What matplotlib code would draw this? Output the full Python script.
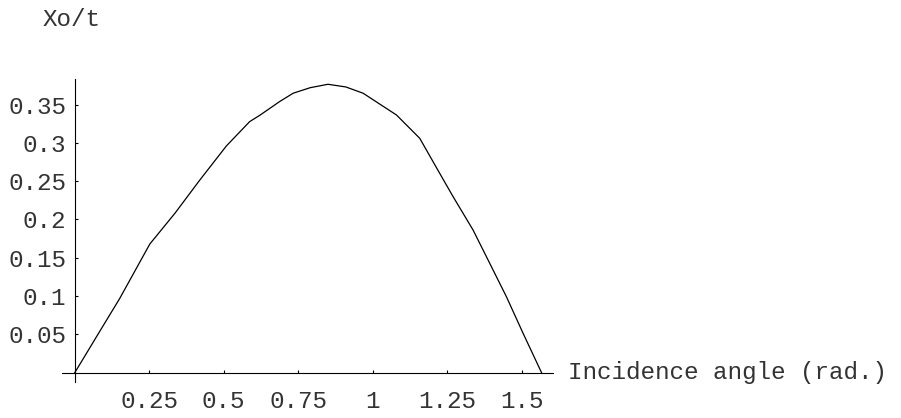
import matplotlib
matplotlib.use("Agg")
import matplotlib.pyplot as plt

# values
angle = [0.0, 0.073, 0.151, 0.252, 0.336, 0.42, 0.509, 0.587, 0.621, 0.688,
         0.733, 0.79, 0.85, 0.91, 0.968, 1.08, 1.158, 1.22, 1.27, 1.337,
         1.393, 1.449, 1.505, 1.567]
xo_t = [0.0, 0.047, 0.097, 0.168, 0.208, 0.2516, 0.296, 0.3277, 0.336, 0.354,
        0.3648, 0.372, 0.3765, 0.373, 0.3648, 0.3364, 0.306, 0.2637, 0.2298, 0.1863,
        0.1428, 0.0992, 0.0514, 0.0]

x_ticks = [0.25, 0.5, 0.75, 1.0, 1.25, 1.5]
x_labels = ["0.25", "0.5", "0.75", "1", "1.25", "1.5"]
y_ticks = [0.05, 0.1, 0.15, 0.2, 0.25, 0.3, 0.35]
y_labels = ["0.05", "0.1", "0.15", "0.2", "0.25", "0.3", "0.35"]

font = "Liberation Mono"
fsize = 17.5
tcol = "#333333"

fig = plt.figure(figsize=(9.01, 4.18), dpi=100)
ax = fig.add_axes([0.0691, 0.0864, 0.5442, 0.7239])

ax.plot(angle, xo_t, color="black", lw=0.9)

ax.set_xlim(-0.042, 1.604)
ax.set_ylim(-0.012, 0.383)

# mathematica style axes crossing at the origin
for side in ["top", "right"]:
    ax.spines[side].set_visible(False)
ax.spines["left"].set_position(("data", 0))
ax.spines["bottom"].set_position(("data", 0))
for side in ["left", "bottom"]:
    ax.spines[side].set_linewidth(0.8)
    ax.spines[side].set_color("black")

ax.set_xticks(x_ticks)
ax.set_xticklabels(x_labels)
ax.set_yticks(y_ticks)
ax.set_yticklabels(y_labels)
ax.tick_params(axis="both", direction="in", length=2.5, width=0.8,
               labelsize=fsize, labelcolor=tcol)
ax.tick_params(axis="x", pad=12.5)
ax.tick_params(axis="y", pad=6)
for lab in ax.get_xticklabels() + ax.get_yticklabels():
    lab.set_fontfamily(font)

fig.text(43 / 901, 1 - 20 / 418, "Xo/t", fontfamily=font, fontsize=fsize,
         color=tcol, ha="left", va="center")
fig.text(568 / 901, 1 - 373 / 418, "Incidence angle (rad.)", fontfamily=font,
         fontsize=fsize, color=tcol, ha="left", va="center")

fig.savefig("out.png", dpi=100)
